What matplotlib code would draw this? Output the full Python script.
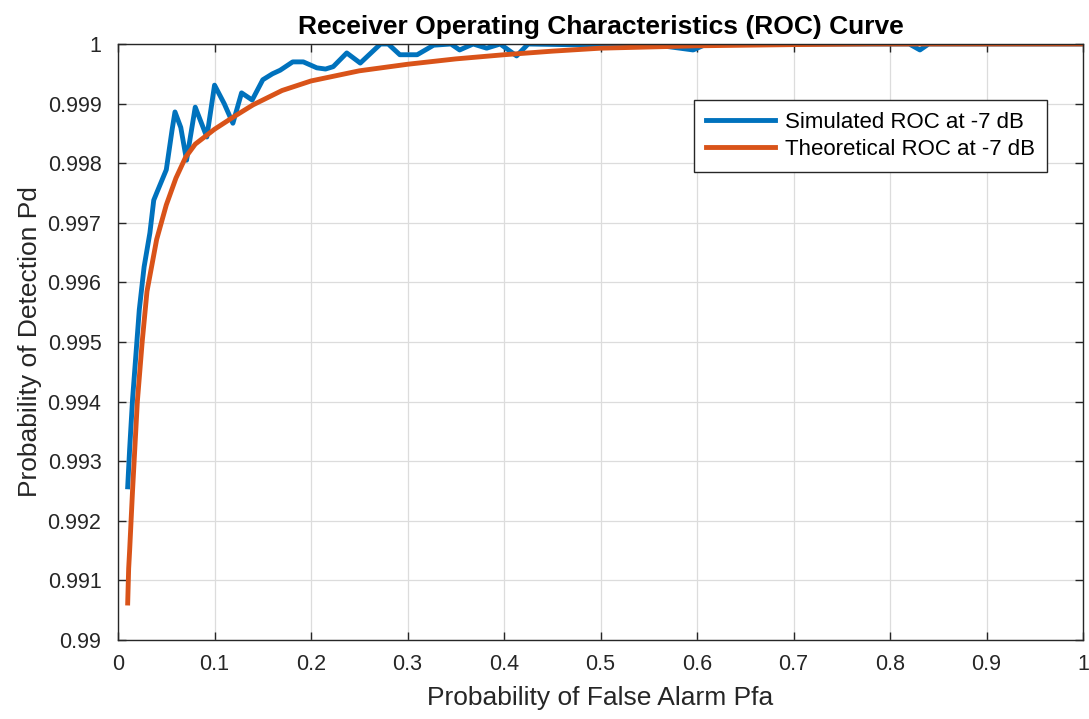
import numpy as np
import matplotlib.pyplot as plt

# values
sim_pfa = [0.010, 0.012, 0.015, 0.022, 0.027, 0.033, 0.037, 0.040, 0.050, 0.056,
           0.059, 0.065, 0.071, 0.080, 0.092, 0.100, 0.110, 0.119, 0.128, 0.139,
           0.150, 0.160, 0.168, 0.181, 0.192, 0.206, 0.215, 0.223, 0.237, 0.251,
           0.272, 0.280, 0.292, 0.310, 0.327, 0.345, 0.354, 0.368, 0.382, 0.396,
           0.413, 0.425, 0.500, 0.550, 0.596, 0.610, 0.700, 0.820, 0.831, 0.840,
           0.900, 1.000]
sim_pd = [0.99257, 0.99320, 0.99403, 0.99554, 0.99626, 0.99683, 0.99738, 0.99750, 0.99789, 0.99856,
          0.99886, 0.99860, 0.99805, 0.99894, 0.99844, 0.99931, 0.99900, 0.99867, 0.99918, 0.99906,
          0.99940, 0.99950, 0.99956, 0.99970, 0.99970, 0.99960, 0.99958, 0.99962, 0.99985, 0.99968,
          1.00000, 1.00000, 0.99982, 0.99982, 0.99998, 1.00000, 0.99990, 1.00000, 0.99993, 1.00000,
          0.99980, 1.00000, 0.99998, 1.00000, 0.99990, 1.00000, 1.00000, 1.00000, 0.99990, 1.00000,
          1.00000, 1.00000]

theo_pfa = [0.010, 0.011, 0.012, 0.015, 0.020, 0.025, 0.030, 0.040, 0.050, 0.060,
            0.070, 0.080, 0.100, 0.120, 0.140, 0.170, 0.200, 0.250, 0.300, 0.350,
            0.400, 0.450, 0.500, 0.600, 0.700, 0.780, 1.000]
theo_pd = [0.99062, 0.99120, 0.99150, 0.99250, 0.99400, 0.99500, 0.99585, 0.99672, 0.99730, 0.99775,
           0.99810, 0.99832, 0.99857, 0.99878, 0.99898, 0.99922, 0.99938, 0.99955, 0.99966, 0.99975,
           0.99982, 0.99988, 0.99993, 0.99997, 0.99999, 1.00000, 1.00000]

xtick_labels = ['0', '0.1', '0.2', '0.3', '0.4', '0.5', '0.6', '0.7', '0.8', '0.9', '1']
ytick_labels = ['0.99', '0.991', '0.992', '0.993', '0.994', '0.995',
                '0.996', '0.997', '0.998', '0.999', '1']

plt.rcParams['font.family'] = ['Liberation Sans', 'DejaVu Sans']

fig = plt.figure(figsize=(10.89, 7.19), dpi=100)
ax = fig.add_axes([0.1084, 0.1099, 0.8861, 0.8289])

ax.plot(sim_pfa, sim_pd, color='#0072BD', lw=3.5, label='Simulated ROC at -7 dB')
ax.plot(theo_pfa, theo_pd, color='#D95319', lw=3.5, label='Theoretical ROC at -7 dB')

ax.set_xlim(0, 1)
ax.set_ylim(0.99, 1)
ax.set_xticks(np.linspace(0, 1, 11))
ax.set_xticklabels(xtick_labels)
ax.set_yticks(np.linspace(0.99, 1, 11))
ax.set_yticklabels(ytick_labels)
ax.tick_params(direction='in', top=True, right=True, length=6, width=1,
               labelsize=15.5, colors='#262626')
ax.tick_params(axis='x', pad=10)
ax.tick_params(axis='y', pad=12)
ax.grid(True, color='#dcdcdc', lw=0.9)
ax.set_axisbelow(True)
for s in ax.spines.values():
    s.set_color('#262626')
    s.set_linewidth(1)

ax.set_xlabel('Probability of False Alarm Pfa', fontsize=19, color='#262626', labelpad=8)
ax.set_ylabel('Probability of Detection Pd', fontsize=19, color='#262626', labelpad=4)
ax.set_title('Receiver Operating Characteristics (ROC) Curve', fontsize=19,
             fontweight='bold', pad=7)

leg = ax.legend(loc='upper right', bbox_to_anchor=(0.9627, 0.906), borderaxespad=0,
                fontsize=16, fancybox=False, framealpha=1, edgecolor='#262626',
                handlelength=3.1, borderpad=0.55, labelspacing=0.25,
                handletextpad=0.45)
leg.get_frame().set_linewidth(1)

fig.savefig('out.png', dpi=100)
